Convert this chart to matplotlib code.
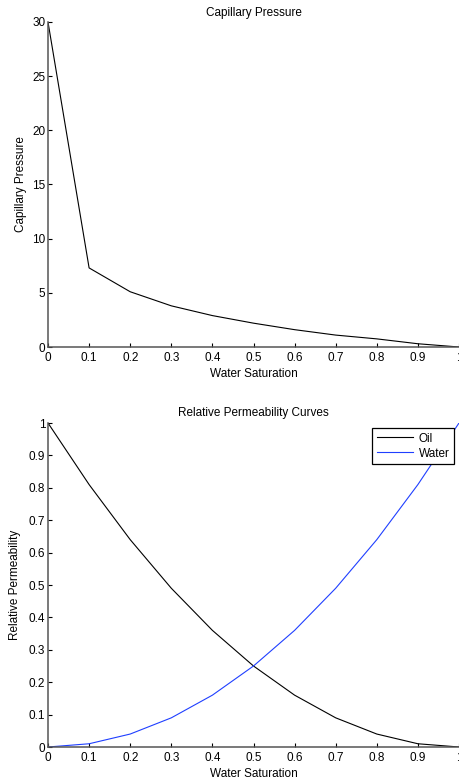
import matplotlib
matplotlib.use("Agg")
import matplotlib.pyplot as plt

# Water saturation grid
sw = [0.0, 0.1, 0.2, 0.3, 0.4, 0.5, 0.6, 0.7, 0.8, 0.9, 1.0]
# Capillary pressure at each saturation
pc = [30.0, 7.3, 5.1, 3.8, 2.9, 2.2, 1.6, 1.1, 0.75, 0.3, 0.0]
# Relative permeabilities
kro = [1.0, 0.81, 0.64, 0.49, 0.36, 0.25, 0.16, 0.09, 0.04, 0.01, 0.0]
krw = [0.0, 0.01, 0.04, 0.09, 0.16, 0.25, 0.36, 0.49, 0.64, 0.81, 1.0]

xticks = [0, 0.1, 0.2, 0.3, 0.4, 0.5, 0.6, 0.7, 0.8, 0.9, 1]
xticklabels = ["0", "0.1", "0.2", "0.3", "0.4", "0.5", "0.6", "0.7", "0.8", "0.9", "1"]

FS = 8.5
plt.rcParams["font.family"] = ["Liberation Sans", "DejaVu Sans"]
plt.rcParams["font.size"] = FS

W, H = 459, 780
fig = plt.figure(figsize=(W / 100, H / 100), dpi=100)

def style(ax):
    for s in ("top", "right"):
        ax.spines[s].set_visible(False)
    for s in ("left", "bottom"):
        ax.spines[s].set_linewidth(1.1)
        ax.spines[s].set_color("#555555")
    ax.tick_params(direction="in", length=3, width=0.8, labelsize=FS)
    ax.tick_params(axis="x", pad=3.5)
    ax.tick_params(axis="y", pad=2)
    ax.set_xlim(0, 1)
    ax.set_xticks(xticks)
    ax.set_xticklabels(xticklabels)

ax1 = fig.add_axes([48 / W, 1 - 347 / H, (459 - 48) / W, (347 - 22) / H])
ax1.plot(sw, pc, color="black", lw=0.8)
style(ax1)
ax1.set_ylim(0, 30)
ax1.set_yticks([0, 5, 10, 15, 20, 25, 30])
ax1.set_title("Capillary Pressure", fontsize=FS, pad=4)
ax1.set_xlabel("Water Saturation", fontsize=FS, labelpad=3)
ax1.set_ylabel("Capillary Pressure", fontsize=FS)
ax1.yaxis.set_label_coords(-0.052, 0.5)

ax2 = fig.add_axes([48 / W, 1 - 747 / H, (459 - 48) / W, (747 - 423) / H])
ax2.plot(sw, kro, color="black", lw=0.8, label="Oil")
ax2.plot(sw, krw, color="#1f3fff", lw=0.8, label="Water")
style(ax2)
ax2.set_ylim(0, 1)
ax2.set_yticks([0, 0.1, 0.2, 0.3, 0.4, 0.5, 0.6, 0.7, 0.8, 0.9, 1])
ax2.set_yticklabels(["0", "0.1", "0.2", "0.3", "0.4", "0.5", "0.6", "0.7", "0.8", "0.9", "1"])
ax2.set_title("Relative Permeability Curves", fontsize=FS, pad=5)
ax2.set_xlabel("Water Saturation", fontsize=FS, labelpad=3)
ax2.set_ylabel("Relative Permeability", fontsize=FS)
ax2.yaxis.set_label_coords(-0.066, 0.5)
leg = ax2.legend(loc="upper right", bbox_to_anchor=(0.988, 0.985), fontsize=FS,
                 fancybox=False, framealpha=1, edgecolor="black",
                 handlelength=3.0, handletextpad=0.5, borderpad=0.4,
                 labelspacing=0.25, borderaxespad=0)
leg.get_frame().set_linewidth(0.9)

fig.savefig("out.png", dpi=100)
